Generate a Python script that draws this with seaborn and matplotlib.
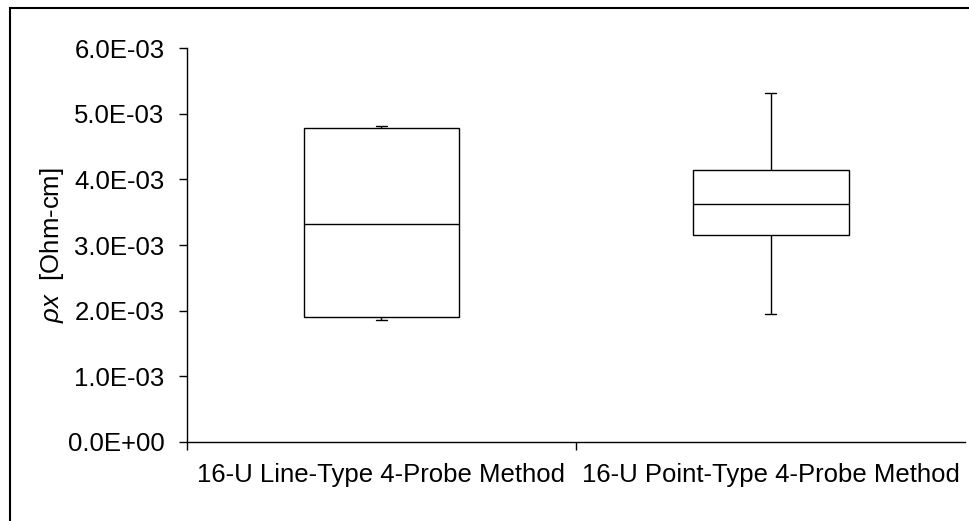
import numpy as np
import pandas as pd
import matplotlib
matplotlib.use("Agg")
import matplotlib.pyplot as plt
import matplotlib.ticker as mticker
from matplotlib.patches import Rectangle
import seaborn as sns

# Five-number summaries (min, Q1, median, Q3, max)
categories = ["16-U Line-Type 4-Probe Method", "16-U Point-Type 4-Probe Method"]
line_type_values = [1.856e-3, 1.907e-3, 3.316e-3, 4.785e-3, 4.82e-3]
point_type_values = [1.943e-3, 3.153e-3, 3.626e-3, 4.14e-3, 5.319e-3]
y_ticks = [0.0, 1e-3, 2e-3, 3e-3, 4e-3, 5e-3, 6e-3]

df = pd.DataFrame({
    "method": [categories[0]] * len(line_type_values) + [categories[1]] * len(point_type_values),
    "rho": line_type_values + point_type_values,
})

sns.set_style("white")
plt.rcParams["font.family"] = ["Liberation Sans", "DejaVu Sans"]
plt.rcParams["mathtext.fontset"] = "custom"
plt.rcParams["mathtext.it"] = "Liberation Sans:italic"
plt.rcParams["mathtext.rm"] = "Liberation Sans"
plt.rcParams["text.color"] = "black"
plt.rcParams["axes.labelcolor"] = "black"
plt.rcParams["xtick.color"] = "black"
plt.rcParams["ytick.color"] = "black"

fig = plt.figure(figsize=(9.69, 5.21), dpi=100)
ax = fig.add_axes([0.1927, 0.1522, 0.8035, 0.7551])

sns.boxplot(data=df, x="method", y="rho", order=categories, ax=ax,
            whis=(0, 100), width=0.4, color="white", saturation=1,
            linecolor="black", linewidth=1.0, capwidths=0.028)

ax.set_xlim(-0.5, 1.5)
ax.set_ylim(0, 6e-3)
ax.set_yticks(y_ticks)
ax.yaxis.set_major_formatter(mticker.FuncFormatter(lambda v, p: f"{v:.1E}"))

ax.set_xticks([-0.5, 0.5])
ax.set_xticklabels(["", ""])
ax.set_xticks([0, 1], minor=True)
ax.set_xticklabels(categories, minor=True)
ax.tick_params(axis="x", which="major", direction="out", length=5.5, width=1.0, colors="black", bottom=True)
ax.tick_params(axis="x", which="minor", length=0, pad=15, labelsize=18.5, labelcolor="black")
ax.tick_params(axis="y", direction="out", length=6, width=1.0, colors="black", pad=10, labelsize=18.5, left=True)
ax.set_xlabel("")
ax.set_ylabel(r"$\rho x$  [Ohm-cm]", fontsize=18.5, color="black")
ax.yaxis.set_label_coords(-0.155, 0.5)

for side in ["top", "right"]:
    ax.spines[side].set_visible(False)
for side in ["left", "bottom"]:
    ax.spines[side].set_color("black")
    ax.spines[side].set_linewidth(1.0)

fig.patches.append(Rectangle((9.5 / 969, -0.1), 1.2, 1.1 - 7.5 / 521,
                             transform=fig.transFigure, fill=False,
                             edgecolor="black", linewidth=1.5))

fig.savefig("out.png", dpi=100)
